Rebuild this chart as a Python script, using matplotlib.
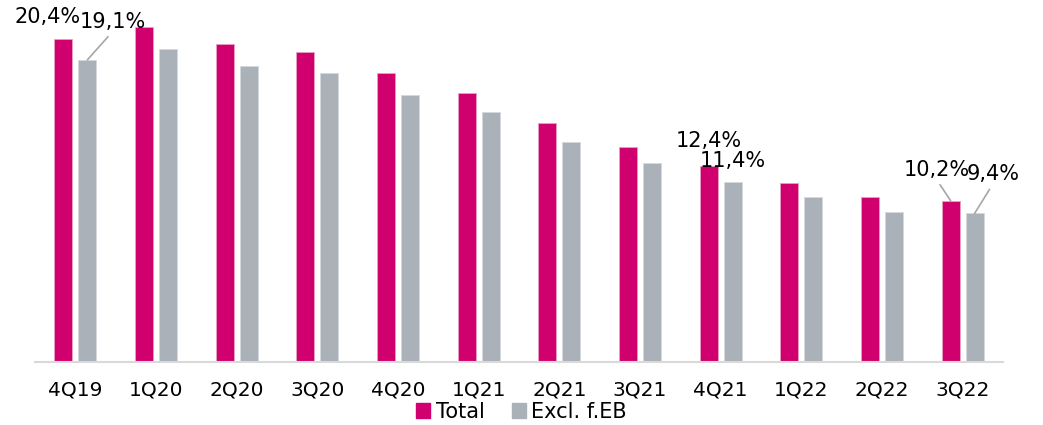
import matplotlib
matplotlib.use("Agg")
import matplotlib.pyplot as plt
import numpy as np
from matplotlib.patches import Patch

# ---- data ----
quarters = ["4Q19", "1Q20", "2Q20", "3Q20", "4Q20", "1Q21",
            "2Q21", "3Q21", "4Q21", "1Q22", "2Q22", "3Q22"]
total = [20.4, 21.2, 20.1, 19.6, 18.3, 17.0, 15.1, 13.6, 12.4, 11.3, 10.4, 10.2]
excl_feb = [19.1, 19.8, 18.7, 18.3, 16.9, 15.8, 13.9, 12.6, 11.4, 10.4, 9.5, 9.4]
series_names = ["Total", "Excl. f.EB"]

# which bars get a value label: (series, index, dx px, dy px, leader line)
labels = [
    ("total", 0, -16, 16, False),
    ("excl", 0, 25, 32, True),
    ("total", 8, 0, 19, False),
    ("excl", 8, 0, 15, False),
    ("total", 11, -14, 25, True),
    ("excl", 11, 18, 33, True),
]

MAGENTA = "#D0006F"
GREY = "#AAB1B8"

fig = plt.figure(figsize=(10.43, 4.25), dpi=100)
ax = fig.add_axes([35 / 1043, 63 / 425, 968 / 1043, 348 / 425])

x = np.arange(len(quarters))
w, off = 0.225, 0.149
ax.bar(x - off, total, w, color=MAGENTA, edgecolor="#E8A0C4", linewidth=0.6)
ax.bar(x + off, excl_feb, w, color=GREY, edgecolor="#D5D9DD", linewidth=0.6)

ax.set_xlim(-0.5, len(quarters) - 0.5)
ax.set_ylim(0, 22)
ax.set_xticks(x, quarters, fontsize=14.5)
ax.tick_params(axis="x", length=0, pad=13)
ax.set_yticks([])
for s in ("top", "right", "left"):
    ax.spines[s].set_visible(False)
ax.spines["bottom"].set_color("#D9D9D9")
ax.spines["bottom"].set_linewidth(1.5)

vals = {"total": (total, -off), "excl": (excl_feb, off)}
for key, i, dx, dy, leader in labels:
    ys, o = vals[key]
    txt = f"{ys[i]:.1f}%".replace(".", ",")
    arrow = dict(arrowstyle="-", color="#A6A6A6", lw=1.2, shrinkA=2, shrinkB=0,
                 relpos=(0.5, 0)) if leader else None
    ax.annotate(txt, xy=(i + o, ys[i]), xytext=(dx, dy), textcoords="offset pixels",
                ha="center", va="baseline", fontsize=15, arrowprops=arrow,
                annotation_clip=False)

handles = [Patch(color=MAGENTA), Patch(color=GREY)]
fig.legend(handles, series_names, loc="center", bbox_to_anchor=(0.5, 0.031),
           ncol=2, frameon=False, fontsize=15, handlelength=0.7, handleheight=0.7,
           handletextpad=0.25, columnspacing=1.3, borderpad=0)

fig.savefig("out.png", dpi=100)
